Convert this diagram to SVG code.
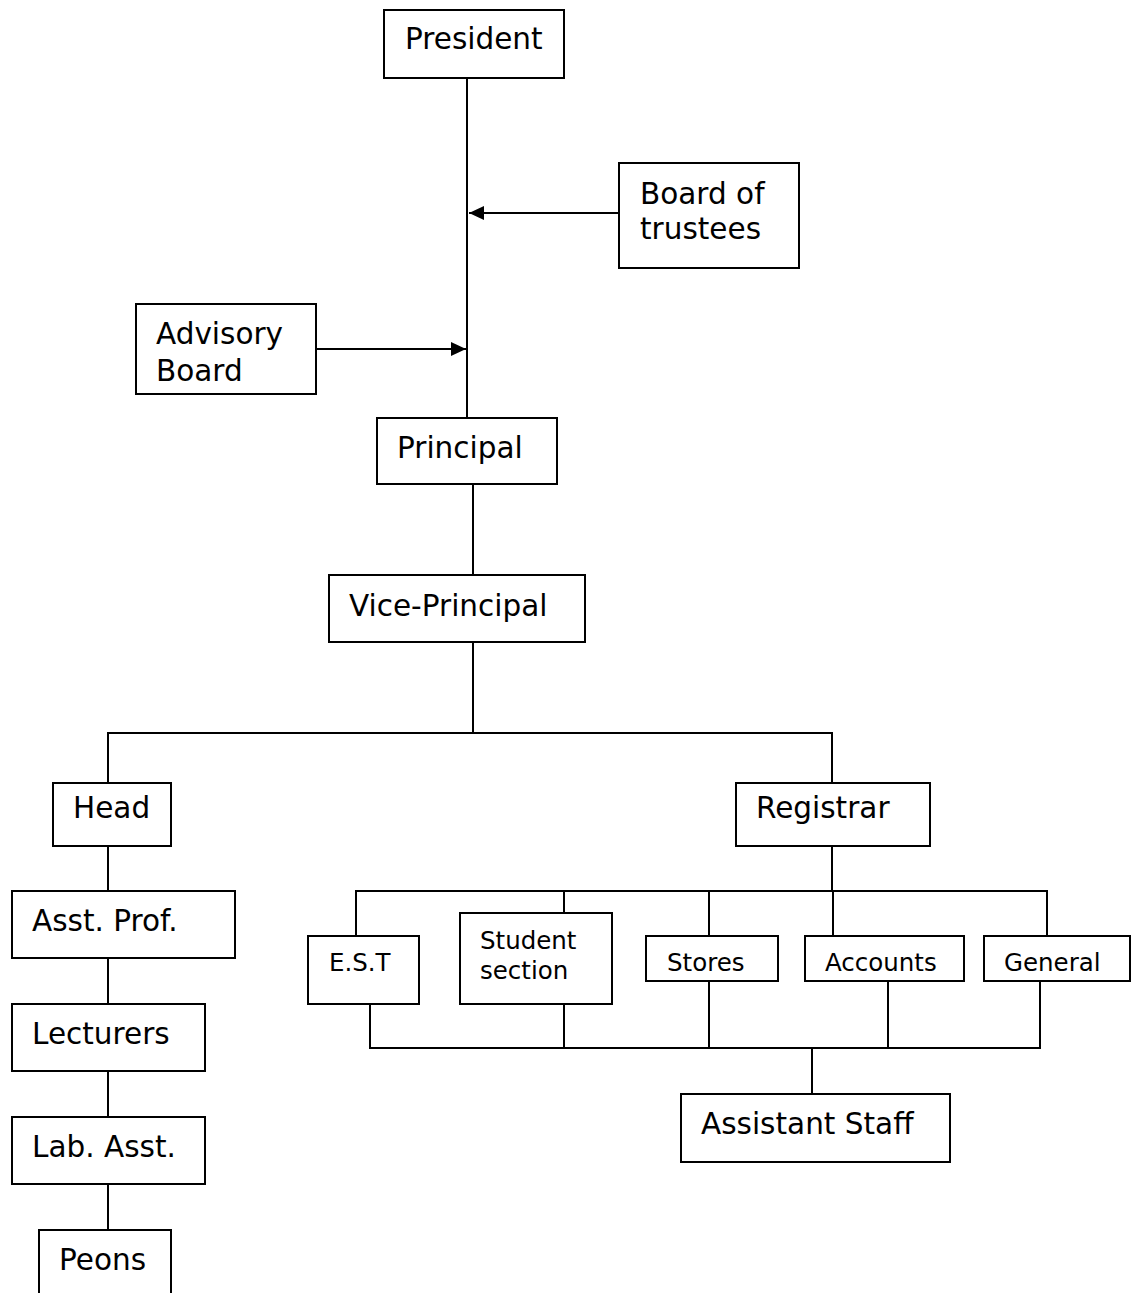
<svg xmlns="http://www.w3.org/2000/svg" width="1131" height="1293" viewBox="0 0 1131 1293">
<style>
.box{fill:#fff;stroke:#000;stroke-width:2}
.ln{fill:none;stroke:#000;stroke-width:2}
text{font-family:"DejaVu Sans","Verdana",sans-serif;fill:#000}
.lg{font-size:29.5px}
.sm{font-size:24.5px}
</style>
<defs>
<marker id="arr" markerUnits="userSpaceOnUse" markerWidth="16" markerHeight="14" refX="15" refY="7" orient="auto">
<path d="M0,0 L15,7 L0,14 Z" fill="#000"/>
</marker>
</defs>
<rect width="1131" height="1293" fill="#fff"/>
<g id="connectors">
<line class="ln" x1="467" y1="78" x2="467" y2="418"/>
<line class="ln" x1="619" y1="213" x2="469" y2="213" marker-end="url(#arr)"/>
<line class="ln" x1="316" y1="349" x2="466" y2="349" marker-end="url(#arr)"/>
<line class="ln" x1="473" y1="484" x2="473" y2="575"/>
<polyline class="ln" points="473,642 473,733"/>
<polyline class="ln" points="108,783 108,733 832,733 832,783"/>
<line class="ln" x1="108" y1="846" x2="108" y2="891"/>
<line class="ln" x1="108" y1="958" x2="108" y2="1004"/>
<line class="ln" x1="108" y1="1071" x2="108" y2="1117"/>
<line class="ln" x1="108" y1="1184" x2="108" y2="1230"/>
<line class="ln" x1="832" y1="846" x2="832" y2="891"/>
<polyline class="ln" points="356,936 356,891 1047,891 1047,936"/>
<line class="ln" x1="564" y1="891" x2="564" y2="913"/>
<line class="ln" x1="709" y1="891" x2="709" y2="936"/>
<line class="ln" x1="833" y1="891" x2="833" y2="936"/>
<polyline class="ln" points="370,1004 370,1048 1040,1048 1040,981"/>
<line class="ln" x1="564" y1="1004" x2="564" y2="1048"/>
<line class="ln" x1="709" y1="981" x2="709" y2="1048"/>
<line class="ln" x1="888" y1="981" x2="888" y2="1048"/>
<line class="ln" x1="812" y1="1048" x2="812" y2="1094"/>
</g>
<g id="president"><rect class="box" x="384" y="10" width="180" height="68"/><text class="lg" x="405" y="49">President</text></g>
<g id="board-of-trustees"><rect class="box" x="619" y="163" width="180" height="105"/><text class="lg" x="640" y="204">Board of</text><text class="lg" x="640" y="239">trustees</text></g>
<g id="advisory-board"><rect class="box" x="136" y="304" width="180" height="90"/><text class="lg" x="156" y="344">Advisory</text><text class="lg" x="156" y="381">Board</text></g>
<g id="principal"><rect class="box" x="377" y="418" width="180" height="66"/><text class="lg" x="397" y="458">Principal</text></g>
<g id="vice-principal"><rect class="box" x="329" y="575" width="256" height="67"/><text class="lg" x="349" y="616">Vice-Principal</text></g>
<g id="head"><rect class="box" x="53" y="783" width="118" height="63"/><text class="lg" x="73" y="818">Head</text></g>
<g id="registrar"><rect class="box" x="736" y="783" width="194" height="63"/><text class="lg" x="756" y="818">Registrar</text></g>
<g id="asst-prof"><rect class="box" x="12" y="891" width="223" height="67"/><text class="lg" x="32" y="931">Asst. Prof.</text></g>
<g id="lecturers"><rect class="box" x="12" y="1004" width="193" height="67"/><text class="lg" x="32" y="1044">Lecturers</text></g>
<g id="lab-asst"><rect class="box" x="12" y="1117" width="193" height="67"/><text class="lg" x="32" y="1157">Lab. Asst.</text></g>
<g id="peons"><rect class="box" x="39" y="1230" width="132" height="80"/><text class="lg" x="59" y="1270">Peons</text></g>
<g id="est"><rect class="box" x="308" y="936" width="111" height="68"/><text class="sm" x="329" y="971">E.S.T</text></g>
<g id="student-section"><rect class="box" x="460" y="913" width="152" height="91"/><text class="sm" x="480" y="949">Student</text><text class="sm" x="480" y="979">section</text></g>
<g id="stores"><rect class="box" x="646" y="936" width="132" height="45"/><text class="sm" x="667" y="971">Stores</text></g>
<g id="accounts"><rect class="box" x="805" y="936" width="159" height="45"/><text class="sm" x="825" y="971">Accounts</text></g>
<g id="general"><rect class="box" x="984" y="936" width="146" height="45"/><text class="sm" x="1004" y="971">General</text></g>
<g id="assistant-staff"><rect class="box" x="681" y="1094" width="269" height="68"/><text class="lg" x="701" y="1134">Assistant Staff</text></g>
</svg>
